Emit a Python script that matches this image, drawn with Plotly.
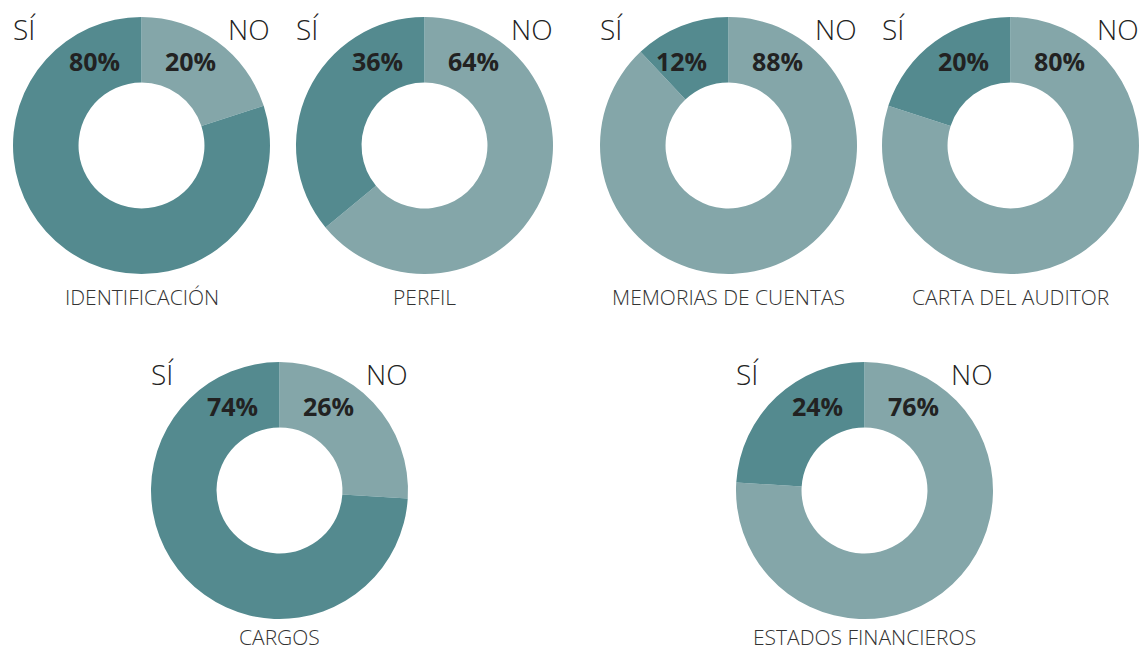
import plotly.graph_objects as go

categories = ["IDENTIFICACIÓN", "PERFIL", "MEMORIAS DE CUENTAS", "CARTA DEL AUDITOR", "CARGOS", "ESTADOS FINANCIEROS"]
si_values = [80, 36, 12, 20, 74, 24]
no_values = [20, 64, 88, 80, 26, 76]
answer_labels = ["NO", "SÍ"]

# layout (pixel centers of each donut)
W, H = 1146, 652
centers = [(141.5, 145.5), (424.5, 145.5), (728.5, 145.5), (1010.5, 145.5),
           (279.5, 490.5), (864.5, 490.5)]
R = 128.5
DARK = "#548a8f"
LIGHT = "#84a6a9"
FONT = "Open Sans"

fig = go.Figure()
ann = []


def px(x):
    return x / W


def py(y):
    return 1 - y / H


for cat, si, no, (cx, cy) in zip(categories, si_values, no_values, centers):
    fig.add_trace(go.Pie(
        values=[no, si], labels=answer_labels, sort=False,
        direction="clockwise", rotation=0, hole=0.49,
        marker=dict(colors=[LIGHT, DARK], line=dict(width=0)),
        textinfo="none", showlegend=False,
        domain=dict(x=[(cx - R) / W, (cx + R) / W], y=[1 - (cy + R) / H, 1 - (cy - R) / H]),
        name=cat,
    ))
    # percentages
    ann.append(dict(x=px(cx - 47), y=py(cy - 84.5), text=f"{si}%", showarrow=False,
                    xref="paper", yref="paper", xanchor="center", yanchor="middle",
                    font=dict(family=FONT, size=25, color="#222222", weight="bold")))
    ann.append(dict(x=px(cx + 49), y=py(cy - 84.5), text=f"{no}%", showarrow=False,
                    xref="paper", yref="paper", xanchor="center", yanchor="middle",
                    font=dict(family=FONT, size=25, color="#222222", weight="bold")))
    # SÍ / NO labels
    ann.append(dict(x=px(cx - 117), y=py(cy - 117), text="SÍ", showarrow=False,
                    xref="paper", yref="paper", xanchor="center", yanchor="middle",
                    font=dict(family=FONT, size=28, color="#222222", weight=300)))
    ann.append(dict(x=px(cx + 107), y=py(cy - 117), text="NO", showarrow=False,
                    xref="paper", yref="paper", xanchor="center", yanchor="middle",
                    font=dict(family=FONT, size=28, color="#222222", weight=300)))
    # category label (kept inside the canvas)
    ly = min(cy + 151, H - 15)
    ann.append(dict(x=px(cx), y=py(ly), text=cat, showarrow=False, borderpad=0,
                    xref="paper", yref="paper", xanchor="center", yanchor="middle",
                    font=dict(family=FONT, size=21, color="#333333", weight=300)))

fig.update_layout(width=W, height=H, margin=dict(l=0, r=0, t=0, b=0),
                  paper_bgcolor="white", plot_bgcolor="white", annotations=ann)
fig.write_html("out.html")
